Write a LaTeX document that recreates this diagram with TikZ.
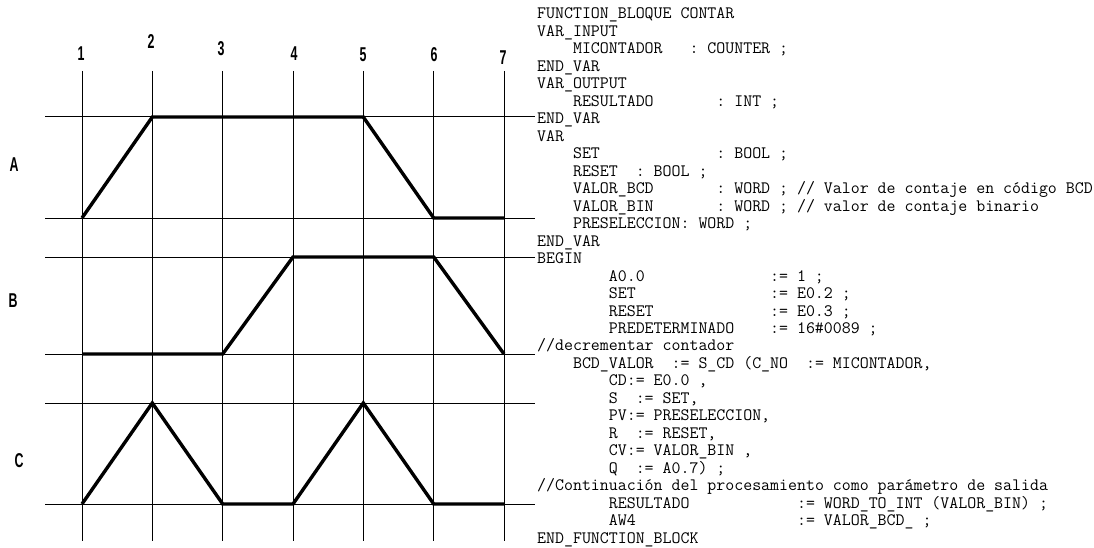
\documentclass[tikz,border=0pt]{standalone}
\usepackage{fontspec}
\usepackage{tikz}
\newfontfamily\labfont[FakeStretch=0.62]{Liberation Sans}

\begin{document}
\begin{tikzpicture}[x=1pt,y=-1pt,
  grid/.style={line width=1pt},
  wave/.style={line width=3.4pt},
  timelbl/.style={font=\labfont\bfseries\fontsize{20}{20}\selectfont,inner sep=0pt},
  codeline/.style={font=\ttfamily\fontsize{17.4}{17.5}\selectfont\frenchspacing,inner sep=0pt,anchor=base west}]

  \useasboundingbox (0,0) rectangle (1094,548);

  % time marks
  \node[timelbl] (t1) at (81,54) {1};
  \node[timelbl] (t2) at (151,42) {2};
  \node[timelbl] (t3) at (221,49) {3};
  \node[timelbl] (t4) at (294,54) {4};
  \node[timelbl] (t5) at (363,55) {5};
  \node[timelbl] (t6) at (434,55) {6};
  \node[timelbl] (t7) at (503,58) {7};

  % signal names
  \node[timelbl] (sA) at (14,165) {A};
  \node[timelbl] (sB) at (13,301) {B};
  \node[timelbl] (sC) at (19,461) {C};

  % vertical lines
  \draw[grid] (82,71) -- (82,541);
  \draw[grid] (152.3,71) -- (152.3,541);
  \draw[grid] (222.7,71) -- (222.7,541);
  \draw[grid] (293,71) -- (293,541);
  \draw[grid] (363.3,71) -- (363.3,541);
  \draw[grid] (433.7,71) -- (433.7,541);
  \draw[grid] (504,71) -- (504,541);

  % horizontal lines (high / low of each signal)
  \draw[grid] (45,117) -- (535,117);
  \draw[grid] (45,218) -- (535,218);
  \draw[grid] (45,257) -- (535,257);
  \draw[grid] (45,354) -- (535,354);
  \draw[grid] (45,403) -- (535,403);
  \draw[grid] (45,504) -- (535,504);

  % signal A
  \draw[wave] (82,218) -- (152.3,117) -- (363.3,117) -- (433.7,218) -- (504,218);
  % signal B
  \draw[wave] (82,354) -- (222.7,354) -- (293,257) -- (433.7,257) -- (504,354);
  % signal C
  \draw[wave] (82,504) -- (152.3,403) -- (222.7,504) -- (293,504) -- (363.3,403) -- (433.7,504) -- (504,504);

  % program listing
  \node[codeline] (c1) at (537,19.0) {FUNCTION\_BLOQUE CONTAR};
  \node[codeline] (c2) at (537,36.5) {VAR\_INPUT};
  \node[codeline] (c3) at (537,53.9) {~~~~MICONTADOR~~~: COUNTER ;};
  \node[codeline] (c4) at (537,71.4) {END\_VAR};
  \node[codeline] (c5) at (537,88.9) {VAR\_OUTPUT};
  \node[codeline] (c6) at (537,106.4) {~~~~RESULTADO~~~~~~~: INT ;};
  \node[codeline] (c7) at (537,123.8) {END\_VAR};
  \node[codeline] (c8) at (537,141.3) {VAR};
  \node[codeline] (c9) at (537,158.8) {~~~~SET~~~~~~~~~~~~~: BOOL ;};
  \node[codeline] (c10) at (537,176.2) {~~~~RESET~~: BOOL ;};
  \node[codeline] (c11) at (537,193.7) {~~~~VALOR\_BCD~~~~~~~: WORD ; // Valor de contaje en código BCD};
  \node[codeline] (c12) at (537,211.2) {~~~~VALOR\_BIN~~~~~~~: WORD ; // valor de contaje binario};
  \node[codeline] (c13) at (537,228.6) {~~~~PRESELECCION: WORD ;};
  \node[codeline] (c14) at (537,246.1) {END\_VAR};
  \node[codeline] (c15) at (537,263.6) {BEGIN};
  \node[codeline] (c16) at (537,281.0) {~~~~~~~~A0.0~~~~~~~~~~~~~~:= 1 ;};
  \node[codeline] (c17) at (537,298.5) {~~~~~~~~SET~~~~~~~~~~~~~~~:= E0.2 ;};
  \node[codeline] (c18) at (537,316.0) {~~~~~~~~RESET~~~~~~~~~~~~~:= E0.3 ;};
  \node[codeline] (c19) at (537,333.5) {~~~~~~~~PREDETERMINADO~~~~:= 16\#0089 ;};
  \node[codeline] (c20) at (537,350.9) {//decrementar contador};
  \node[codeline] (c21) at (537,368.4) {~~~~BCD\_VALOR~~:= S\_CD (C\_NO~~:= MICONTADOR,};
  \node[codeline] (c22) at (537,385.9) {~~~~~~~~CD:= E0.0 ,};
  \node[codeline] (c23) at (537,403.3) {~~~~~~~~S~~:= SET,};
  \node[codeline] (c24) at (537,420.8) {~~~~~~~~PV:= PRESELECCION,};
  \node[codeline] (c25) at (537,438.3) {~~~~~~~~R~~:= RESET,};
  \node[codeline] (c26) at (537,455.7) {~~~~~~~~CV:= VALOR\_BIN ,};
  \node[codeline] (c27) at (537,473.2) {~~~~~~~~Q~~:= A0.7) ;};
  \node[codeline] (c28) at (537,490.7) {//Continuación del procesamiento como parámetro de salida};
  \node[codeline] (c29) at (537,508.1) {~~~~~~~~RESULTADO~~~~~~~~~~~~:= WORD\_TO\_INT (VALOR\_BIN) ;};
  \node[codeline] (c30) at (537,525.6) {~~~~~~~~AW4~~~~~~~~~~~~~~~~~~:= VALOR\_BCD\_ ;};
  \node[codeline] (c31) at (537,543.1) {END\_FUNCTION\_BLOCK};

\end{tikzpicture}
\end{document}
